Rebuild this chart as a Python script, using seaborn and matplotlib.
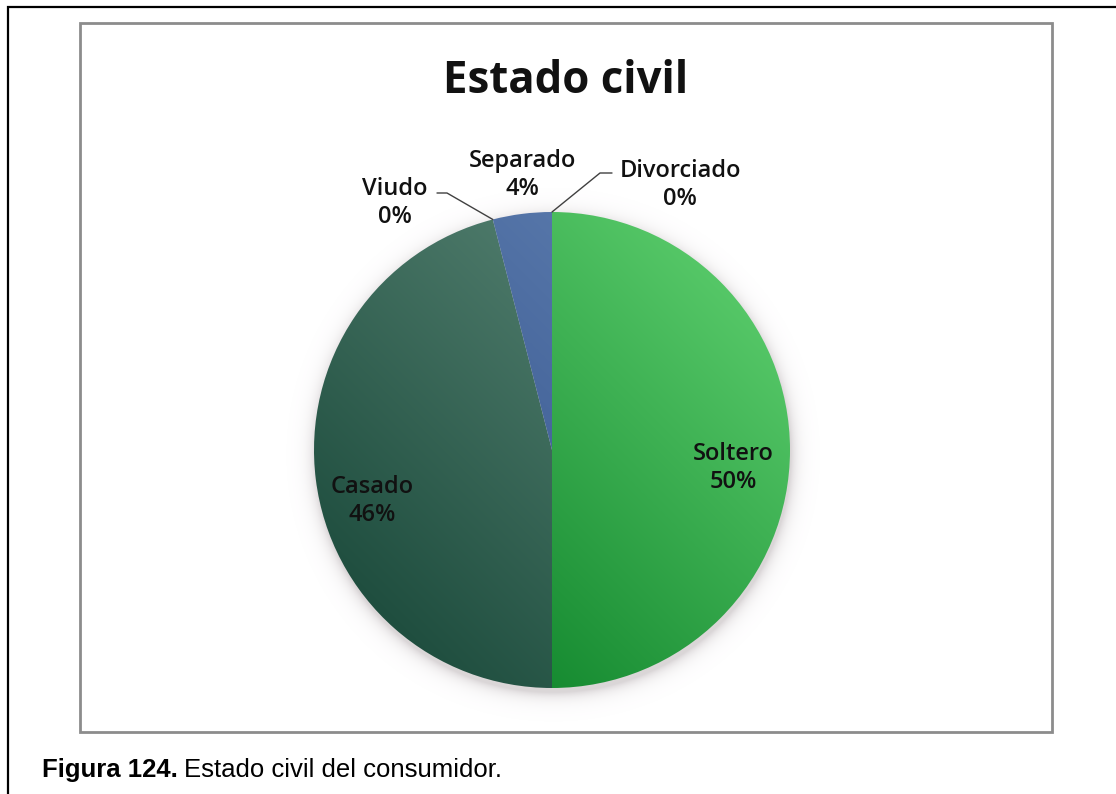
import numpy as np
import matplotlib
matplotlib.use("Agg")
import matplotlib.pyplot as plt
import matplotlib.colors as mcolors
from matplotlib.patches import Rectangle
import seaborn as sns

# Data
categorias = ["Soltero", "Casado", "Viudo", "Separado", "Divorciado"]
porcentajes = [50, 46, 0, 4, 0]
titulo = "Estado civil"
figura_num = "Figura 124."
figura_txt = "Estado civil del consumidor."

# Slice shading: (dark end, light end) of a diagonal gradient
tonos = {
    "Soltero": ("#0c8128", "#55c767"),
    "Casado": ("#1f4e3f", "#5a8676"),
    "Viudo": ("#6a8fa0", "#8fb0c0"),
    "Separado": ("#31518a", "#5c7cae"),
    "Divorciado": ("#7f9fbf", "#9fbfdf"),
}

sns.set_theme(style="white")
plt.rcParams["font.family"] = ["Open Sans", "DejaVu Sans"]

W, H = 1116, 794
fig = plt.figure(figsize=(W / 100, H / 100), dpi=100)
fig.patch.set_facecolor("white")


def fx(x):
    return x / W


def fy(y):
    return 1 - y / H


# Page frame (runs off the right and bottom edges) and chart-area frame
fig.add_artist(Rectangle((fx(8), fy(820)), fx(1140) - fx(8), fy(7) - fy(820),
                         transform=fig.transFigure, fill=False,
                         edgecolor="black", linewidth=1.6))
fig.add_artist(Rectangle((fx(80), fy(732)), fx(1052) - fx(80), fy(23) - fy(732),
                         transform=fig.transFigure, fill=False,
                         edgecolor="#8c8c8c", linewidth=2.0))

# Pie axes: centre (552, 450) px, radius 238 px
cx, cy, r = 552, 450, 238
half = 300
ax = fig.add_axes([fx(cx - half), fy(cy + half), 2 * half / W, 2 * half / H])
lim = half / r

wedges, _ = ax.pie(porcentajes, startangle=90, counterclock=False, radius=1,
                   colors=[tonos[c][0] for c in categorias],
                   wedgeprops=dict(linewidth=0))

n = 700
g = np.linspace(-lim, lim, n)
X, Y = np.meshgrid(g, g)

# soft drop shadow beneath the pie
d = np.hypot(X - 0.005, Y + 0.02)
alpha = np.where(d > 1, 0.32 * np.exp(-(d - 1) / 0.028), 0.32)
sh = np.zeros((n, n, 4))
sh[..., :3] = (0.55, 0.50, 0.52)
sh[..., 3] = alpha
ax.imshow(sh, extent=(-lim, lim, -lim, lim), origin="lower", zorder=0,
          interpolation="bilinear")

# diagonal gradient fill clipped to each wedge
t = np.clip((X + Y) / np.sqrt(2) * 0.5 + 0.5, 0, 1)
for w, c in zip(wedges, categorias):
    dark = np.array(mcolors.to_rgb(tonos[c][0]))
    light = np.array(mcolors.to_rgb(tonos[c][1]))
    grad = dark + (light - dark) * t[..., None]
    im = ax.imshow(grad, extent=(-lim, lim, -lim, lim), origin="lower",
                   zorder=2, interpolation="bilinear")
    im.set_clip_path(w)
    w.set_facecolor("none")
    w.set_zorder(3)

ax.set_xlim(-lim, lim)
ax.set_ylim(-lim, lim)
ax.set_aspect("equal")
ax.axis("off")


def px(x, y):
    return (x - cx) / r, (cy - y) / r


# Data labels
lbl_pos = {
    "Soltero": px(733, 468),
    "Casado": px(372, 501),
    "Viudo": px(395, 203),
    "Separado": px(522, 175),
    "Divorciado": px(680, 185),
}
for c, p in zip(categorias, porcentajes):
    x, y = lbl_pos[c]
    ax.text(x, y, f"{c}\n{p}%", ha="center", va="center", ma="center",
            fontsize=17, fontweight="semibold", color="#111111",
            linespacing=1.2, zorder=5)

# leader lines to the zero-size / thin slices
ang = np.deg2rad(90 - np.cumsum([0] + porcentajes) * 3.6)
viudo_edge = (np.cos(ang[2]), np.sin(ang[2]))
divor_edge = (np.cos(ang[4]), np.sin(ang[4]))
vx0, vy0 = px(437, 193)
vx1, _ = px(447, 193)
ax.plot([vx0, vx1, viudo_edge[0]], [vy0, vy0, viudo_edge[1]],
        color="#404040", lw=1.0, zorder=4, clip_on=False)
dx0, dy0 = px(612, 173)
dx1, _ = px(600, 173)
ax.plot([dx0, dx1, divor_edge[0]], [dy0, dy0, divor_edge[1]],
        color="#404040", lw=1.0, zorder=4, clip_on=False)

# Title
fig.text(fx(566), fy(93), titulo, ha="center", va="baseline",
         fontsize=31.5, fontweight="bold", color="#111111")

# Caption under the chart
cap_font = ["Liberation Sans", "DejaVu Sans"]
t1 = fig.text(fx(42), fy(777), figura_num, ha="left", va="baseline",
              fontsize=18.5, fontweight="bold", family=cap_font, color="black")
fig.canvas.draw()
bb = t1.get_window_extent()
fig.text(bb.x1 / W + 6 / W, fy(777), figura_txt, ha="left", va="baseline",
         fontsize=18.5, family=cap_font, color="black")

fig.savefig("out.png", dpi=100, facecolor="white")
